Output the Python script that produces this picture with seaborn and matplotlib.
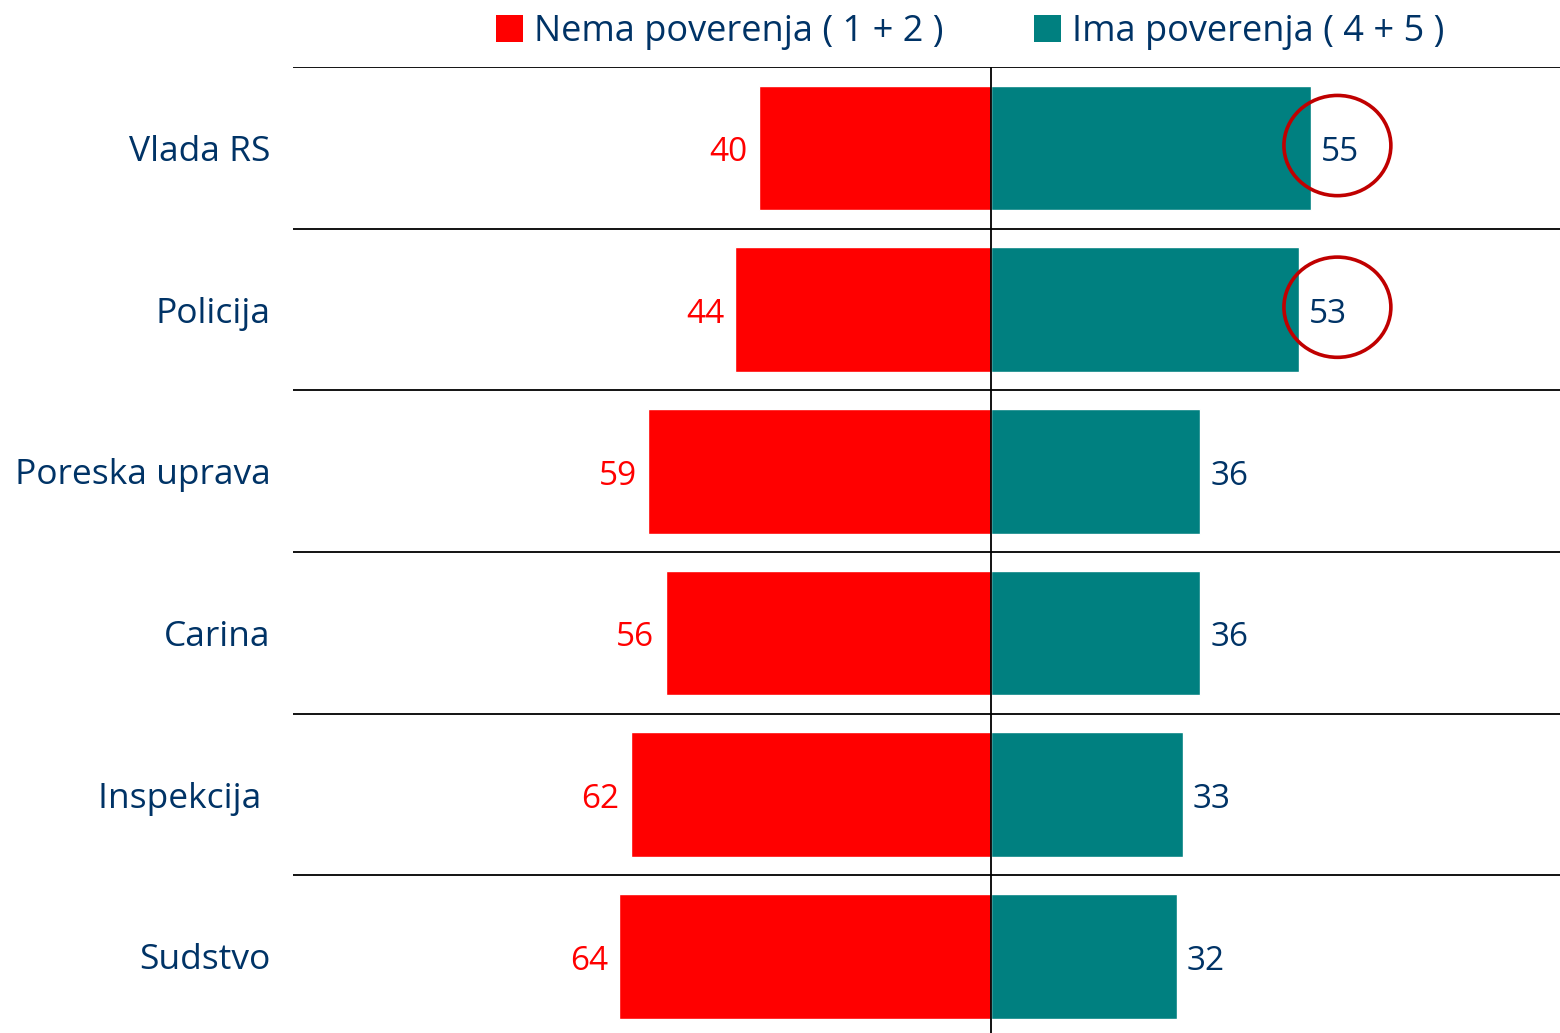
import matplotlib
matplotlib.use('Agg')
import matplotlib.pyplot as plt
from matplotlib.patches import Patch, Ellipse
import seaborn as sns
import pandas as pd

categories = ['Vlada RS', 'Policija', 'Poreska uprava', 'Carina', 'Inspekcija ', 'Sudstvo']
nema = [40, 44, 59, 56, 62, 64]
ima = [55, 53, 36, 36, 33, 32]
circled = [0, 1]  # rows where the "ima" value is circled

RED = '#FF0000'
TEAL = '#008080'
NAVY = '#003366'
CIRCLE = '#C00000'

sns.set_theme(style='white')
plt.rcParams['font.family'] = ['Open Sans', 'DejaVu Sans']

df = pd.DataFrame({'cat': categories, 'nema': nema, 'ima': ima})
df['nema_neg'] = -df['nema']

fig = plt.figure(figsize=(15.6, 10.33), dpi=100)
ax = fig.add_axes([0.1878, -0.004, 0.8122, 0.939])

sns.barplot(data=df, x='nema_neg', y='cat', color=RED, saturation=1, width=0.77, ax=ax)
sns.barplot(data=df, x='ima', y='cat', color=TEAL, saturation=1, width=0.77, ax=ax)

ax.set_xlim(-120.1, 97.9)
ax.set_ylim(5.5, -0.5)

for i, (n, m) in enumerate(zip(nema, ima)):
    ax.text(-n - 1.9, i + 0.03, str(n), ha='right', va='center', color=RED, fontsize=24)
    ax.text(m + 1.7, i + 0.03, str(m), ha='left', va='center', color=NAVY, fontsize=24)

for i in circled:
    e = Ellipse((59.6, i - 0.015), 18.4, 0.62, fill=False, edgecolor=CIRCLE, lw=2.6, zorder=5)
    ax.add_patch(e)

# separators and center line
for y in [i - 0.5 for i in range(len(categories))]:
    ax.axhline(y, color='black', lw=1.3, zorder=4)
ax.axvline(0, color='black', lw=1.3, zorder=4)

ax.set_xlabel('')
ax.set_ylabel('')
ax.set_xticks([])
ax.tick_params(axis='y', length=0, pad=16, labelsize=25.5, labelcolor=NAVY)
for s in ax.spines.values():
    s.set_visible(False)

handles = [Patch(facecolor=RED, edgecolor='none', label='Nema poverenja ( 1 + 2 )'),
           Patch(facecolor=TEAL, edgecolor='none', label='Ima poverenja ( 4 + 5 )')]
leg = fig.legend(handles=handles, loc='center', bbox_to_anchor=(0.622, 0.969), ncol=2,
                 frameon=False, fontsize=26, handlelength=0.75, handleheight=0.75,
                 handletextpad=0.3, columnspacing=2.5)
for t in leg.get_texts():
    t.set_color(NAVY)

fig.savefig('out.png', dpi=100)
